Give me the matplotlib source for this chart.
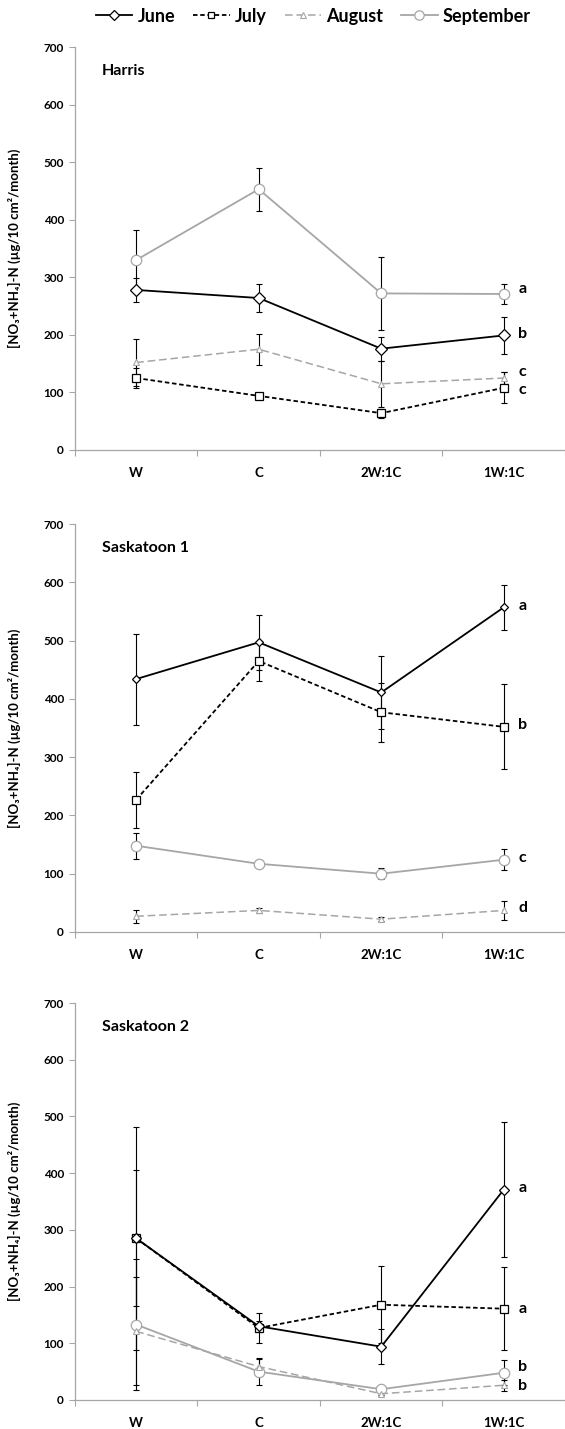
import matplotlib
matplotlib.use('Agg')
import matplotlib.pyplot as plt
from matplotlib.lines import Line2D

plt.rcParams['font.family'] = ['Lato', 'DejaVu Sans']
plt.rcParams['font.weight'] = 'bold'

# categories on x
categories = ['W', 'C', '2W:1C', '1W:1C']

# Harris
harris_june = [278, 264, 176, 199]
harris_june_err = [21, 24, 21, 32]
harris_july = [125, 94, 64, 108]
harris_july_err = [18, 5, 8, 27]
harris_aug = [152, 175, 115, 125]
harris_aug_err = [40, 27, 40, 11]
harris_sep = [330, 453, 272, 271]
harris_sep_err = [53, 37, 63, 17]
harris_letters = ['a', 'b', 'c', 'c']
harris_letter_y = [279, 201, 135, 104]

# Saskatoon 1
sask1_june = [434, 497, 411, 557]
sask1_june_err = [78, 47, 63, 38]
sask1_july = [227, 465, 377, 352]
sask1_july_err = [48, 34, 51, 73]
sask1_aug = [27, 37, 22, 37]
sask1_aug_err = [11, 4, 3, 17]
sask1_sep = [148, 117, 100, 124]
sask1_sep_err = [22, 6, 9, 18]
sask1_letters = ['a', 'b', 'c', 'd']
sask1_letter_y = [559, 355, 127, 41]

# Saskatoon 2
sask2_june = [285, 130, 94, 371]
sask2_june_err = [197, 10, 31, 119]
sask2_july = [285, 127, 168, 161]
sask2_july_err = [120, 27, 68, 73]
sask2_aug = [121, 59, 11, 26]
sask2_aug_err = [95, 14, 3, 10]
sask2_sep = [133, 50, 19, 48]
sask2_sep_err = [115, 24, 4, 22]
sask2_letters = ['a', 'a', 'b', 'b']
sask2_letter_y = [373, 160, 59, 24]

panels = [
    ('Harris', [harris_june, harris_july, harris_aug, harris_sep],
     [harris_june_err, harris_july_err, harris_aug_err, harris_sep_err],
     harris_letters, harris_letter_y, [0.6851, 0.2820], 6),
    ('Saskatoon 1', [sask1_june, sask1_july, sask1_aug, sask1_sep],
     [sask1_june_err, sask1_july_err, sask1_aug_err, sask1_sep_err],
     sask1_letters, sask1_letter_y, [0.3478, 0.2855], 4.2),
    ('Saskatoon 2', [sask2_june, sask2_july, sask2_aug, sask2_sep],
     [sask2_june_err, sask2_july_err, sask2_aug_err, sask2_sep_err],
     sask2_letters, sask2_letter_y, [0.0203, 0.2778], 5.5),
]

grey = '#A6A6A6'
styles = [
    dict(color='black', ls='-', lw=1.3, marker='D', ms=6, mfc='white', mec='black', mew=0.9),
    dict(color='black', ls=(0, (2.5, 1.5)), lw=1.3, marker='s', ms=5.2, mfc='white', mec='black', mew=0.9),
    dict(color=grey, ls=(0, (5, 2.5)), lw=1.1, marker='^', ms=4.8, mfc='white', mec=grey, mew=0.8),
    dict(color=grey, ls='-', lw=1.3, marker='o', ms=7.5, mfc='white', mec=grey, mew=0.9),
]
months = ['June', 'July', 'August', 'September']

fig = plt.figure(figsize=(5.65, 14.29), dpi=100)
x = list(range(len(categories)))

for title, series, errs, letters, letter_y, (bottom, height), dsize in panels:
    ax = fig.add_axes([0.1327, bottom, 0.8673, height])
    for vals, err in zip(series, errs):
        ax.errorbar(x, vals, yerr=err, fmt='none', ecolor='black',
                    elinewidth=0.8, capsize=2.3, capthick=0.8, zorder=2)
    for i, (vals, st) in enumerate(zip(series, styles)):
        st = dict(st)
        if i == 0:
            st['ms'] = dsize
        ax.plot(x, vals, zorder=3 + (3 - i) * 0.1, **st)
    for lab, ly in zip(letters, letter_y):
        ax.text(3.12, ly, lab, ha='left', va='center', fontsize=11.5, fontweight='bold')
    ax.text(0.055, 0.94, title, transform=ax.transAxes, fontsize=11.5,
            fontweight='bold', va='center')

    ax.set_xlim(-0.5, 3.5)
    ax.set_ylim(0, 700)
    ax.set_yticks(range(0, 701, 100))
    ax.set_xticks([-0.5, 0.5, 1.5, 2.5, 3.5])
    ax.set_xticklabels([])
    ax.set_xticks(x, minor=True)
    ax.set_xticklabels(categories, minor=True)
    ax.tick_params(axis='x', which='minor', length=0, pad=12, labelsize=9.5)
    ax.tick_params(axis='x', which='major', length=4, color=grey, width=0.8)
    ax.tick_params(axis='y', length=4, color=grey, width=0.8, pad=4, labelsize=8.5)
    for sp in ['top', 'right']:
        ax.spines[sp].set_visible(False)
    for sp in ['left', 'bottom']:
        ax.spines[sp].set_color(grey)
        ax.spines[sp].set_linewidth(0.9)
    ax.set_ylabel('[NO\u2083+NH\u2084]-N (\u00b5g/10 cm\u00b2/month)', fontsize=9.5,
                  fontweight='bold')
    ax.yaxis.set_label_coords(-0.11, 0.5)

handles = []
for st, m in zip(styles, months):
    st = dict(st)
    st['ms'] = st['ms'] * 0.9
    handles.append(Line2D([], [], label=m, **st))
fig.legend(handles=handles, loc='center', bbox_to_anchor=(0.555, 0.9888), ncol=4,
           frameon=False, handlelength=2.0, handletextpad=0.3,
           columnspacing=1.0, prop={'weight': 'bold', 'size': 13})

fig.savefig('out.png', dpi=100)
